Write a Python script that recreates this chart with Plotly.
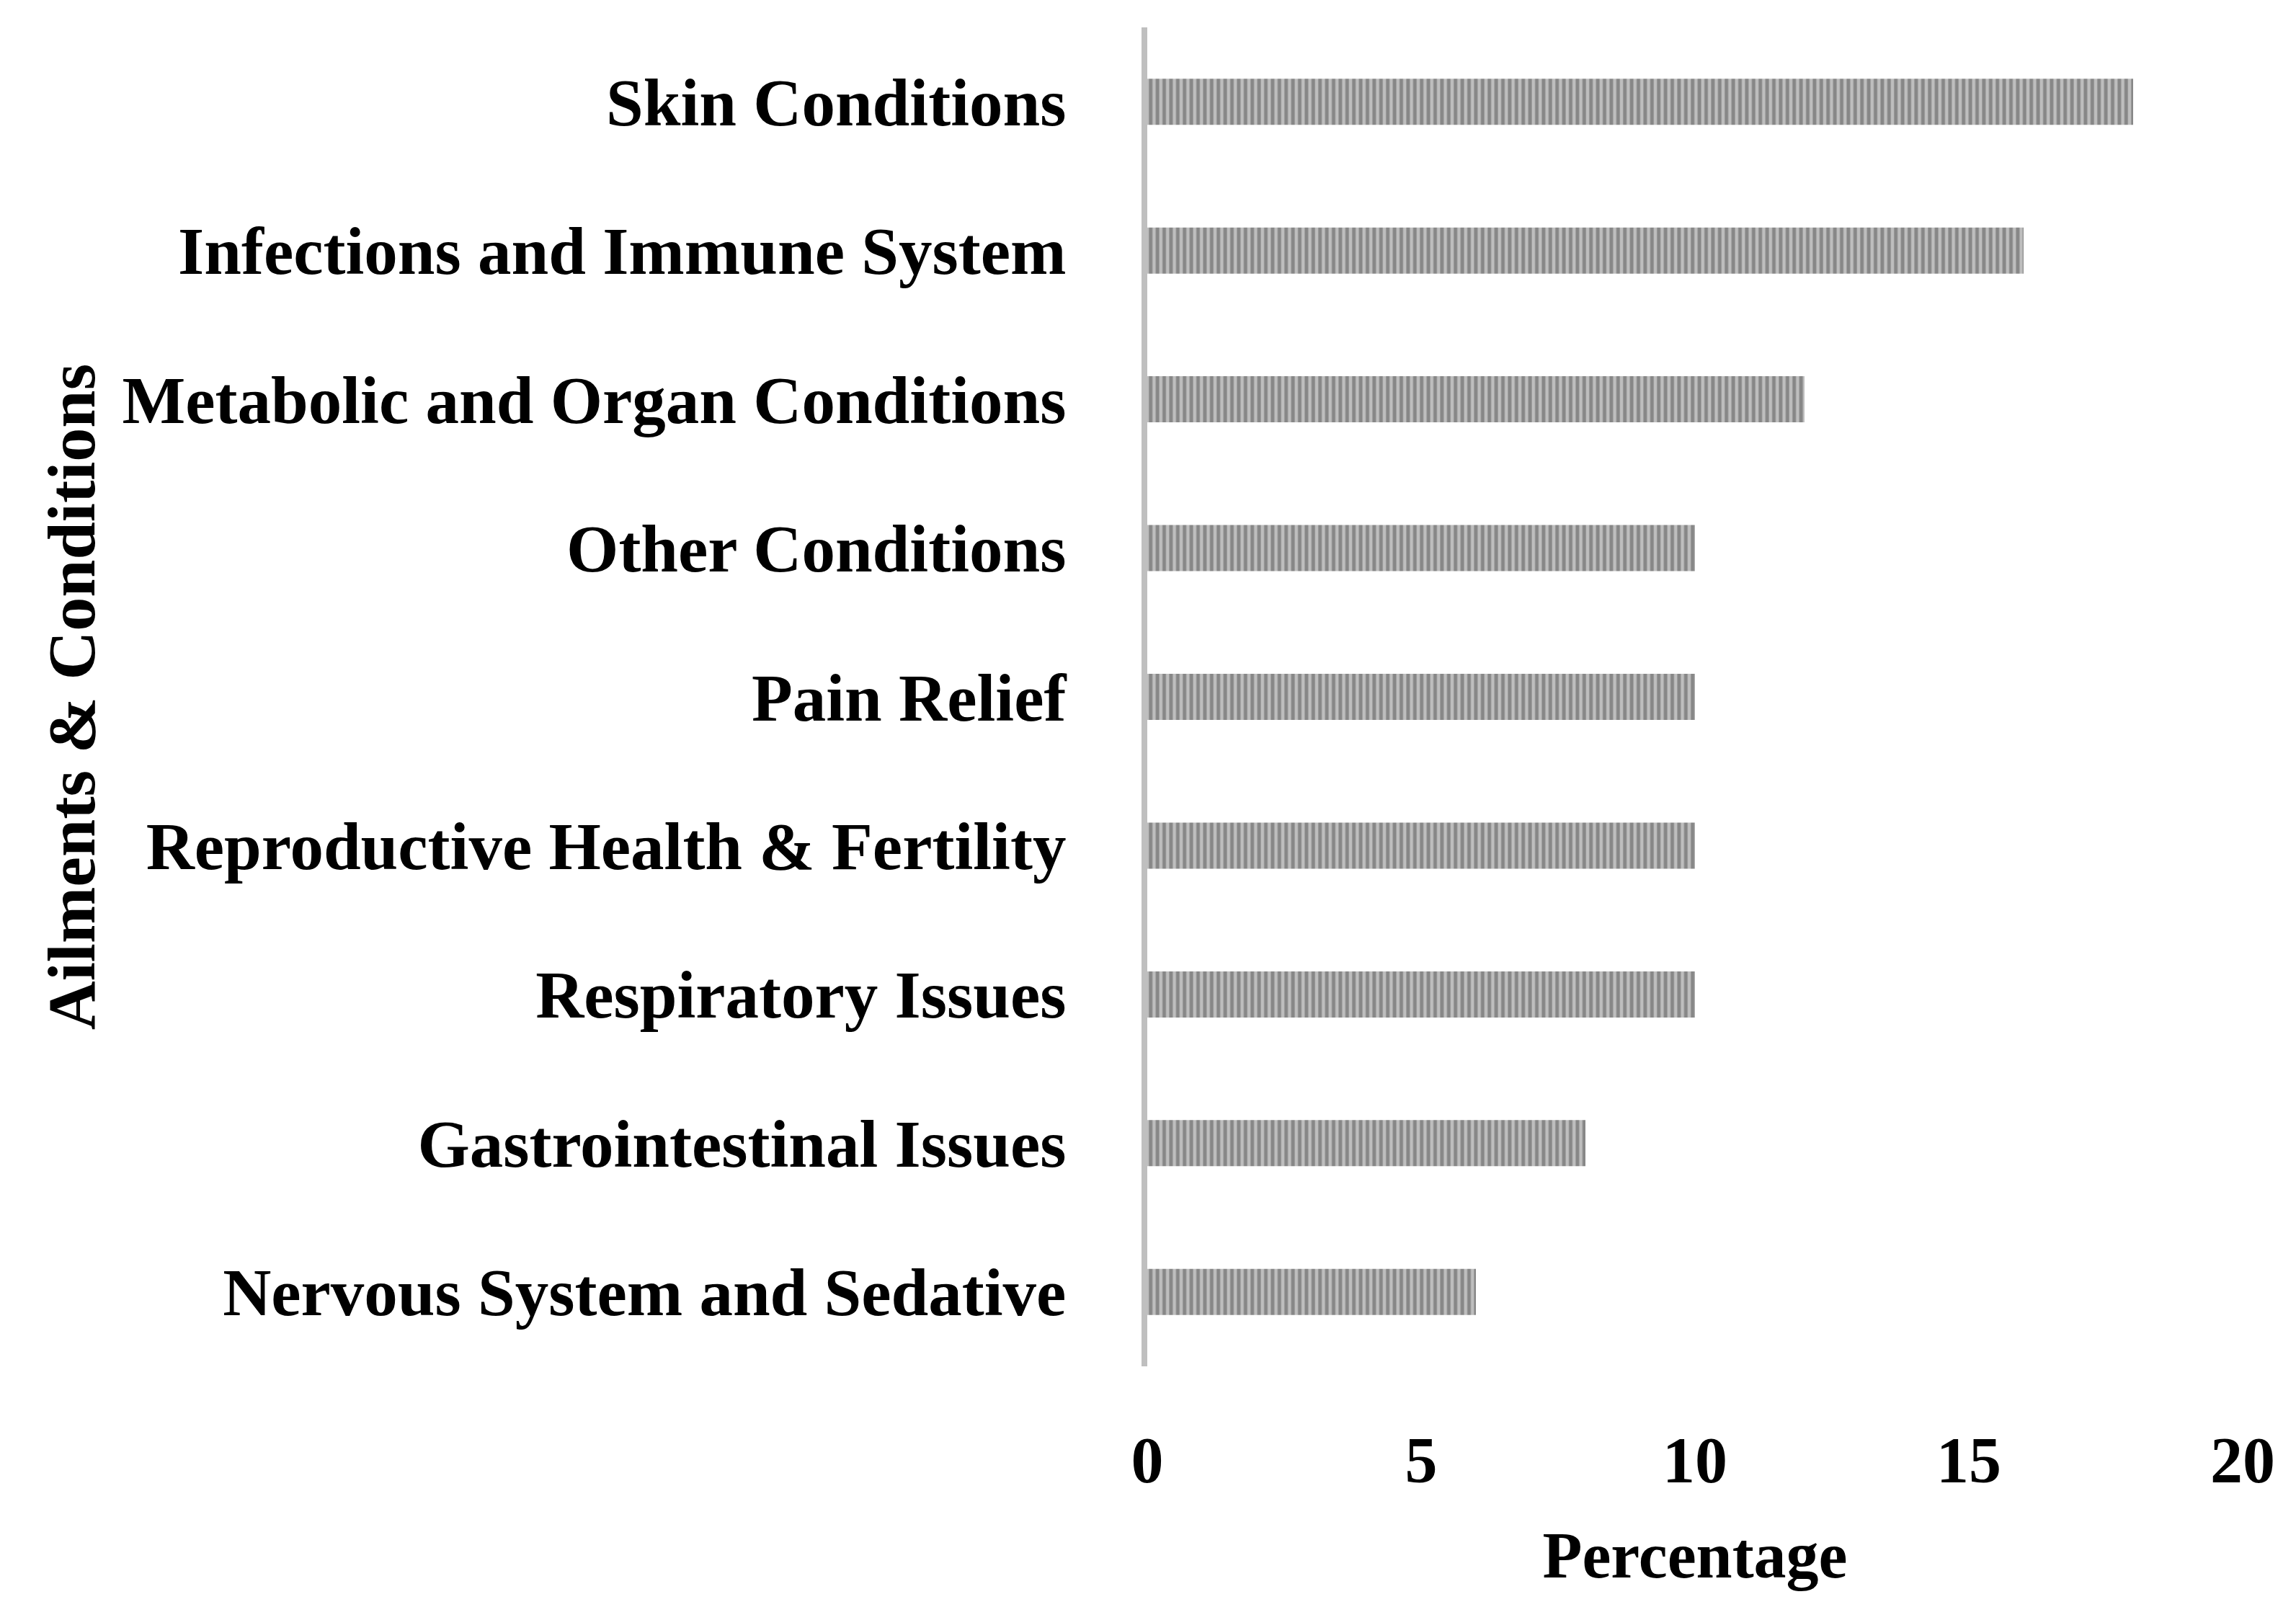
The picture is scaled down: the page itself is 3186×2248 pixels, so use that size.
import plotly.graph_objects as go

categories = [
    "Skin Conditions",
    "Infections and Immune System",
    "Metabolic and Organ Conditions",
    "Other Conditions",
    "Pain Relief",
    "Reproductive Health & Fertility",
    "Respiratory Issues",
    "Gastrointestinal Issues",
    "Nervous System and Sedative",
]
percentages = [18, 16, 12, 10, 10, 10, 10, 8, 6]
x_ticks = [0, 5, 10, 15, 20]

FONT = "Liberation Serif"

fig = go.Figure(
    go.Bar(
        x=percentages,
        y=categories,
        orientation="h",
        width=0.31,
        marker=dict(
            color="#bebebe",
            line=dict(width=0),
            pattern=dict(shape="|", fgcolor="#4f4f4f", bgcolor="#bebebe",
                         size=9.4, solidity=0.52),
        ),
        showlegend=False,
    )
)

fig.update_layout(
    width=3186,
    height=2248,
    paper_bgcolor="white",
    plot_bgcolor="white",
    margin=dict(l=1584, r=82, t=30, b=360),
    font=dict(family=FONT, color="black", size=93),
    bargap=0.69,
)

fig.update_xaxes(
    range=[0, 20],
    tickvals=x_ticks,
    ticktext=[str(v) for v in x_ticks],
    showgrid=False,
    zeroline=False,
    showline=False,
    ticks="",
    tickfont=dict(family=FONT, size=90, color="black", weight="bold"),
    ticklabelstandoff=70,
    title=dict(text="<b>Percentage</b>", font=dict(family=FONT, size=90), standoff=50),
)

fig.update_yaxes(
    categoryorder="array",
    categoryarray=categories,
    autorange="reversed",
    showgrid=False,
    zeroline=False,
    showline=True,
    linecolor="#bfbfbf",
    linewidth=8,
    ticks="",
    tickfont=dict(family=FONT, size=93, color="black", weight="bold"),
    ticklabelstandoff=86,
    title=dict(text="<b>Ailments & Conditions</b>", font=dict(family=FONT, size=94), standoff=10),
)

fig.write_html("out.html")
